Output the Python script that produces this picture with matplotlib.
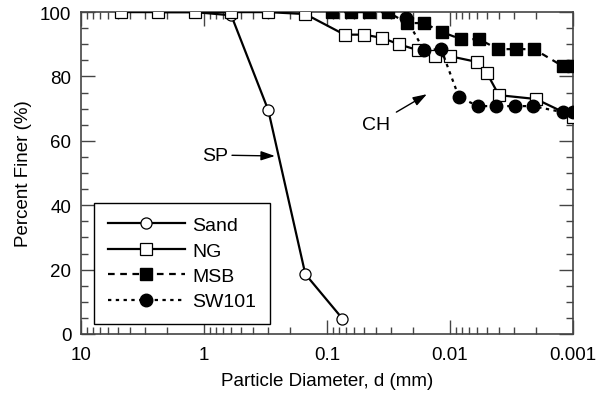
import numpy as np
import matplotlib.pyplot as plt
from matplotlib.ticker import FixedLocator, NullFormatter

plt.rcParams['font.family'] = ['Liberation Sans', 'DejaVu Sans']
plt.rcParams['font.size'] = 12

# Grain size distributions: diameter (mm) and percent finer (%)
sand_d = [2.36, 1.18, 0.6, 0.3, 0.15, 0.075]
sand_p = [100, 100, 99, 69.5, 18.6, 4.8]

ng_d = [4.75, 2.36, 1.18, 0.6, 0.3, 0.15, 0.072, 0.050, 0.0357, 0.026,
        0.0183, 0.0132, 0.0100, 0.0060, 0.0050, 0.0040, 0.0020, 0.0010]
ng_p = [100, 100, 100, 100, 100, 99.4, 93, 93, 92, 90,
        88.2, 86.3, 86.3, 84.5, 81, 74.2, 73, 67.5]

msb_d = [0.091, 0.0638, 0.0456, 0.0319, 0.0224, 0.0163, 0.0116, 0.00814,
         0.00581, 0.00407, 0.00291, 0.00207, 0.00121, 0.0010]
msb_p = [100, 100, 100, 100, 96.6, 96.6, 93.8, 91.6,
         91.6, 88.5, 88.5, 88.5, 83.2, 83.2]

sw_d = [0.0228, 0.0163, 0.0118, 0.00845, 0.0059, 0.00423, 0.00296,
        0.00211, 0.00121, 0.0010]
sw_p = [98.2, 88.2, 88.5, 73.6, 70.8, 70.8, 70.8, 70.8, 68.9, 68.9]

x_ticks = [10, 1, 0.1, 0.01, 0.001]
x_labels = ['10', '1', '0.1', '0.01', '0.001']
y_ticks = [0, 20, 40, 60, 80, 100]

fig = plt.figure(figsize=(6.05, 4.10), dpi=100)
ax = fig.add_axes([0.1339, 0.183, 0.8131, 0.785])

ax.plot(sand_d, sand_p, '-', color='black', lw=1.6, marker='o', ms=8,
        mfc='white', mec='black', mew=0.9, label='Sand', zorder=3)
ax.plot(ng_d, ng_p, '-', color='black', lw=1.6, marker='s', ms=9,
        mfc='white', mec='black', mew=0.9, label='NG', zorder=4)
ax.plot(msb_d, msb_p, color='black', lw=1.6, ls=(0, (3, 2.5)), marker='s',
        ms=9, mfc='black', mec='black', label='MSB', zorder=5)
ax.plot(sw_d, sw_p, color='black', lw=1.6, ls=(0, (1.5, 2)), marker='o',
        ms=9, mfc='black', mec='black', label='SW101', zorder=6)

ax.set_xscale('log')
ax.set_xlim(10, 0.001)
ax.set_ylim(0, 100)

ax.xaxis.set_major_locator(FixedLocator(x_ticks))
ax.set_xticklabels(x_labels)
minor = [m * 10.0 ** e for e in range(-3, 1) for m in range(2, 10)]
ax.xaxis.set_minor_locator(FixedLocator(minor))
ax.xaxis.set_minor_formatter(NullFormatter())
ax.set_yticks(y_ticks)
ax.set_yticks(np.arange(0, 101, 5), minor=True)

spine_color = '#444444'
for s in ax.spines.values():
    s.set_color(spine_color)
    s.set_linewidth(1.2)
ax.tick_params(which='both', direction='in', top=True, right=True,
               color=spine_color, width=1.0)
ax.tick_params(which='major', length=10, labelsize=13.5)
ax.tick_params(which='minor', length=5)
ax.tick_params(axis='x', which='major', pad=9)
ax.tick_params(axis='y', which='major', pad=7)

ax.set_xlabel('Particle Diameter, d (mm)', fontsize=13.5, labelpad=6)
ax.set_ylabel('Percent Finer (%)', fontsize=13.5, labelpad=6)

# Soil class labels with pointers
ax.annotate('SP', xy=(0.265, 55.3), xytext=(0.64, 55.6),
            fontsize=14, va='center', ha='right',
            arrowprops=dict(arrowstyle='-|>,head_length=0.6,head_width=0.2',
                            color='black', lw=1.0, mutation_scale=14,
                            shrinkA=1, shrinkB=0))
ax.annotate('CH', xy=(0.0154, 74.5), xytext=(0.040, 65.2),
            fontsize=14, va='center', ha='center',
            arrowprops=dict(arrowstyle='-|>,head_length=0.6,head_width=0.2',
                            color='black', lw=1.0, mutation_scale=14,
                            shrinkA=3, shrinkB=0))

leg = ax.legend(loc='lower left', bbox_to_anchor=(0.0264, 0.031),
                borderaxespad=0, fontsize=14, handlelength=4.0,
                handletextpad=0.35, labelspacing=0.4, borderpad=0.7,
                fancybox=False, framealpha=1, edgecolor='black')
leg.get_frame().set_linewidth(1.0)

fig.savefig('out.png', dpi=100)
